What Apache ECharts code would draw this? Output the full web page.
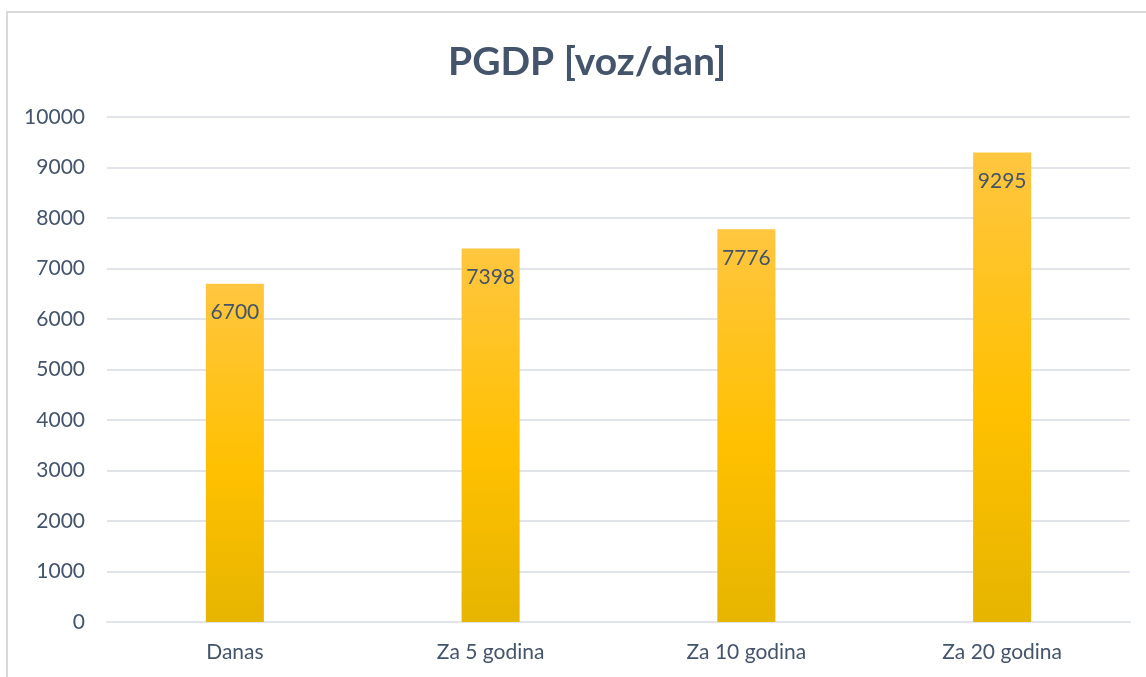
<!DOCTYPE html>
<html>
<head>
<meta charset="utf-8">
<script src="https://cdn.jsdelivr.net/npm/echarts@6/dist/echarts.min.js"></script>
<style>html,body{margin:0;padding:0;background:#fff}#c{width:1146px;height:677px}</style>
</head>
<body>
<div id="c"></div>
<script>
const categories = ['Danas', 'Za 5 godina', 'Za 10 godina', 'Za 20 godina'];
const values = [6700, 7398, 7776, 9295];
const titleText = 'PGDP [voz/dan]';

const chart = echarts.init(document.getElementById('c'));
const txt = '#44546A';
chart.setOption({
  animation: false,
  title: {
    text: titleText, left: 443, top: 38,
    textStyle: { fontFamily: 'Lato', fontWeight: 'bold', fontSize: 39, color: txt }
  },
  graphic: [{
    type: 'rect', shape: { x: 7, y: 12, width: 1200, height: 800 },
    style: { fill: 'none', stroke: '#D9D9D9', lineWidth: 2 }, silent: true, z: -1
  }],
  grid: { left: 107, right: 16, top: 117, bottom: 55, containLabel: false },
  xAxis: {
    type: 'category', data: categories,
    axisLine: { lineStyle: { color: '#E1E4E9', width: 2 } },
    axisTick: { show: false },
    axisLabel: { color: txt, fontFamily: 'Lato', fontSize: 21, margin: 20 }
  },
  yAxis: {
    type: 'value', min: 0, max: 10000, interval: 1000,
    axisLine: { show: false }, axisTick: { show: false },
    splitLine: { lineStyle: { color: '#E1E4E9', width: 2 } },
    axisLabel: { color: txt, fontFamily: 'Lato', fontSize: 21, margin: 22, formatter: v => String(v) }
  },
  series: [{
    type: 'bar', data: values, barWidth: '22.7%',
    itemStyle: {
      color: new echarts.graphic.LinearGradient(0, 0, 0, 1, [
        { offset: 0, color: '#FFC640' },
        { offset: 0.55, color: '#FFC000' },
        { offset: 1, color: '#E6B500' }
      ])
    },
    label: {
      show: true, position: 'insideTop', distance: 18,
      color: txt, fontFamily: 'Lato', fontSize: 21
    }
  }]
});
</script>
</body>
</html>
